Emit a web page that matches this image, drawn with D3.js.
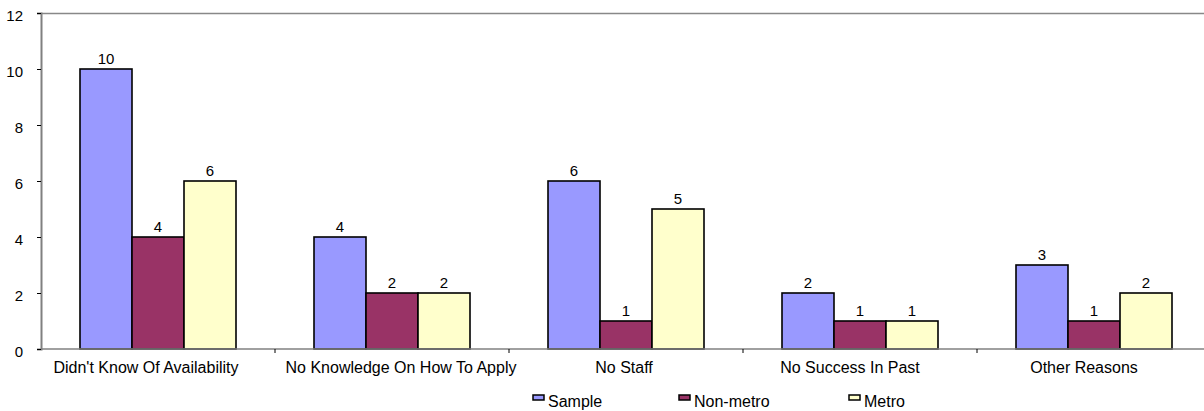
<!DOCTYPE html>
<html><head><meta charset="utf-8">
<script src="https://cdn.jsdelivr.net/npm/d3@7"></script>
<style>body{margin:0;background:#fff}svg{display:block}text{font-family:"Liberation Sans",Arial,sans-serif}</style>
</head><body>
<svg id="c" width="1204" height="411"></svg>
<script>
const categories = ["Didn't Know Of Availability","No Knowledge On How To Apply","No Staff","No Success In Past","Other Reasons"];
const seriesNames = ["Sample","Non-metro","Metro"];
const sample = [10,4,6,2,3];
const nonMetro = [4,2,1,1,1];
const metro = [6,2,5,1,2];
const yTicks = [0,2,4,6,8,10,12];
const colors = ["#9999FF","#993366","#FFFFCC"];
const series = [sample, nonMetro, metro];

const svg = d3.select("#c");
const x0 = 41, x1 = 1211, yTop = 13, yBot = 349;
const x = d3.scaleBand().domain(categories).range([x0, x1]).paddingInner(0).paddingOuter(0);
const inner = d3.scaleBand().domain(seriesNames).range([0, x.bandwidth()]).paddingInner(0).paddingOuter(0.75);
const y = d3.scaleLinear().domain([0,12]).range([yBot, yTop]);

// top border
svg.append("line").attr("x1", x0).attr("x2", 1204).attr("y1", yTop+0.5).attr("y2", yTop+0.5).attr("stroke","#888").attr("stroke-width",1.5);

// bars
series.forEach((vals, si) => {
  svg.append("g").selectAll("rect").data(vals).join("rect")
    .attr("x", (d,i) => x(categories[i]) + inner(seriesNames[si]))
    .attr("y", d => y(d))
    .attr("width", inner.bandwidth())
    .attr("height", d => y(0) - y(d))
    .attr("fill", colors[si]).attr("stroke", "#000").attr("stroke-width", 1.6);
  svg.append("g").selectAll("text").data(vals).join("text")
    .attr("x", (d,i) => x(categories[i]) + inner(seriesNames[si]) + inner.bandwidth()/2)
    .attr("y", d => y(d) - 5)
    .attr("text-anchor","middle").attr("font-size", 15).attr("fill","#000")
    .text(d => d);
});

// y axis
const ya = svg.append("g").attr("transform", `translate(${x0},0)`)
  .call(d3.axisLeft(y).tickValues(yTicks).tickSize(4).tickPadding(14).tickFormat(d3.format("d")));
ya.select(".domain").attr("stroke","#808080").attr("stroke-width",2);
ya.selectAll(".tick line").attr("stroke","#000");
ya.selectAll("text").attr("font-size",15).attr("fill","#000").attr("dy","0.65em").attr("font-family","Liberation Sans, Arial, sans-serif");
ya.selectAll(".tick text").attr("y", -2);

// x axis
svg.append("line").attr("x1", x0).attr("x2", 1204).attr("y1", yBot).attr("y2", yBot).attr("stroke","#808080").attr("stroke-width",1.5);
svg.append("g").selectAll("line").data(categories.slice(1)).join("line")
  .attr("x1", d => x(d)).attr("x2", d => x(d)).attr("y1", yBot).attr("y2", yBot+4).attr("stroke","#000");
const labelDx = [-12, 9, -2, -10, -10];
svg.append("g").selectAll("text").data(categories).join("text")
  .attr("x", (d,i) => x(d) + x.bandwidth()/2 + labelDx[i]).attr("y", yBot + 24)
  .attr("text-anchor","middle").attr("font-size",16).attr("fill","#000").text(d => d);

// legend
const legX = [533, 679, 849];
seriesNames.forEach((n, i) => {
  svg.append("rect").attr("x", legX[i]).attr("y", 395).attr("width", 11).attr("height", 5)
    .attr("fill", colors[i]).attr("stroke","#000").attr("stroke-width",1.5);
  svg.append("text").attr("x", legX[i] + 15).attr("y", 407).attr("font-size",16).attr("fill","#000").text(n);
});
</script>
</body></html>
